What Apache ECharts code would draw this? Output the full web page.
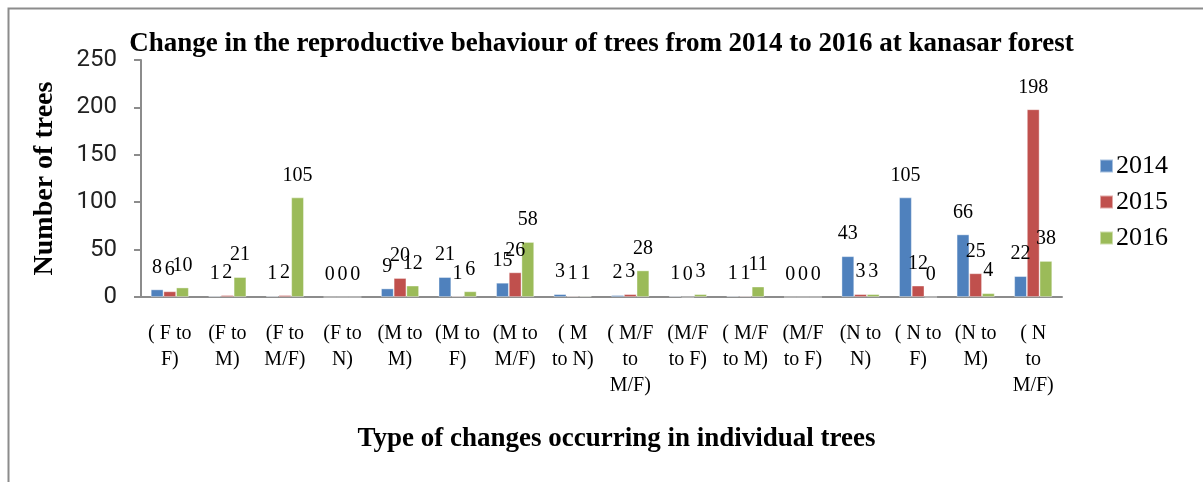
<!DOCTYPE html>
<html>
<head>
<meta charset="utf-8">
<script src="https://cdn.jsdelivr.net/npm/echarts@6/dist/echarts.min.js"></script>
<style>
html,body{margin:0;padding:0;background:#fff;}
#c{width:1203px;height:482px;}
</style>
</head>
<body>
<div id="c"></div>
<script>
const categories = [
  "( F to\nF)", "(F to\nM)", "(F to\nM/F)", "(F to\nN)",
  "(M to\nM)", "(M to\nF)", "(M to\nM/F)", "( M\nto N)",
  "( M/F\nto\nM/F)", "(M/F\nto F)", "( M/F\nto M)", "(M/F\nto F)",
  "(N to\nN)", "( N to\nF)", "(N to\nM)", "( N\nto\nM/F)"
];
const seriesNames = ["2014", "2015", "2016"];
const values2014 = [8, 1, 1, 0, 9, 21, 15, 3, 2, 1, 1, 0, 43, 105, 66, 22];
const values2015 = [6, 2, 2, 0, 20, 1, 26, 1, 3, 0, 1, 0, 3, 12, 25, 198];
const values2016 = [10, 21, 105, 0, 12, 6, 58, 1, 28, 3, 11, 0, 3, 0, 4, 38];
const colors = ["#4F81BD", "#C0504D", "#9BBB59"];
const titleText = "Change in the reproductive behaviour of trees from 2014 to 2016 at kanasar forest";
const yName = "Number of trees";
const xName = "Type of changes occurring in individual trees";

const serif = "'Liberation Serif', 'Times New Roman', serif";
const chart = echarts.init(document.getElementById('c'), null, {renderer: 'canvas'});
const allValues = [values2014, values2015, values2016];
const option = {
  animation: false,
  color: colors,
  graphic: [{
    type: 'rect', left: 6, top: 6, z: -1,
    shape: {width: 1250, height: 520},
    style: {fill: 'none', stroke: '#8c8c8c', lineWidth: 2}
  }],
  title: {
    text: titleText, left: 'center', top: 26,
    textStyle: {fontFamily: serif, fontWeight: 'bold', fontSize: 27, color: '#000'}
  },
  legend: {
    orient: 'vertical', left: 1094, top: 148, itemWidth: 13, itemHeight: 13, itemGap: 10,
    icon: 'rect',
    textStyle: {fontFamily: serif, fontSize: 26, color: '#000', padding: [0,0,0,-2]},
    data: seriesNames
  },
  grid: {left: 141, right: 141, top: 60, bottom: 185, containLabel: false},
  xAxis: {
    type: 'category', data: categories,
    name: xName, nameLocation: 'middle', nameGap: 129,
    nameTextStyle: {fontFamily: serif, fontWeight: 'bold', fontSize: 27, color: '#000', padding: [0, 0, 0, 30]},
    axisLine: {lineStyle: {color: '#8c8c8c', width: 2}},
    axisTick: {show: false},
    axisLabel: {interval: 0, fontFamily: serif, fontSize: 20, color: '#000', lineHeight: 26, margin: 24, align: 'center'}
  },
  yAxis: {
    type: 'value', min: 0, max: 250, interval: 50,
    name: yName, nameLocation: 'middle', nameGap: 82, nameRotate: 90,
    nameTextStyle: {fontFamily: serif, fontWeight: 'bold', fontSize: 28, color: '#000'},
    axisLine: {show: true, lineStyle: {color: '#8c8c8c', width: 2}},
    axisTick: {show: true, length: 7, lineStyle: {color: '#8c8c8c', width: 2}},
    splitLine: {show: false},
    axisLabel: {fontFamily: "Roboto, 'Liberation Sans', sans-serif", fontSize: 24, color: '#222', margin: 24}
  },
  series: seriesNames.map((n, i) => ({
    name: n, type: 'bar', data: allValues[i],
    barGap: '0%', barCategoryGap: '34%',
    itemStyle: {color: colors[i], borderColor: 'rgba(255,255,255,0.5)', borderWidth: 0.8},
    label: {show: true, position: 'top', distance: 12, fontFamily: serif, fontSize: 20, color: '#000'}
  }))
};
chart.setOption(option);
</script>
</body>
</html>
